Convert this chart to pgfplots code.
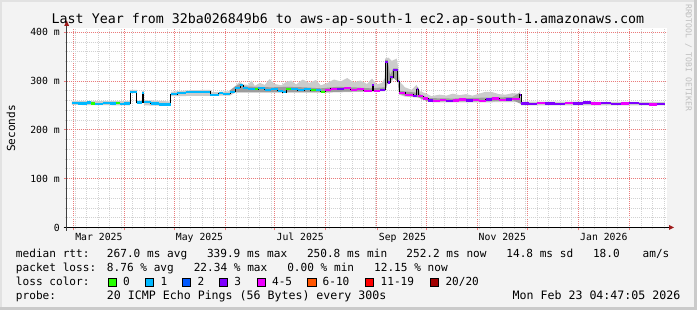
\documentclass[border=0pt]{standalone}
\usepackage{pgfplots}
\usepackage{pgfplotstable}
\pgfplotsset{compat=1.18}
\usepackage{fontspec}
\setmainfont{DejaVu Sans Mono}
\definecolor{bgc}{HTML}{F3F3F3}
\definecolor{shA}{HTML}{E2E2E2}
\definecolor{shB}{HTML}{CACACA}
\definecolor{mgrid}{HTML}{EA7C7C}
\definecolor{ngrid}{HTML}{D2D2D2}
\definecolor{arrc}{HTML}{9E1B1B}
\definecolor{c0}{HTML}{26FF00}
\definecolor{c1}{HTML}{00B8FF}
\definecolor{c2}{HTML}{0059FF}
\definecolor{c3}{HTML}{7E00FF}
\definecolor{c4}{HTML}{EE00FF}
\definecolor{c6}{HTML}{FF5500}
\definecolor{c11}{HTML}{FF0000}
\definecolor{c20}{HTML}{A10000}
\definecolor{smokeA}{HTML}{CCCCCC}
\definecolor{smokeB}{HTML}{9C9C9C}
\newcommand{\axf}{\fontsize{9.8bp}{11bp}\selectfont}
\newcommand{\lgf}{\fontsize{11.1bp}{13bp}\selectfont}
\newcommand{\prf}{\fontsize{11.6bp}{13bp}\selectfont}
\newcommand{\ttf}{\fontsize{13.3bp}{15bp}\selectfont}
\newcommand{\wmf}{\fontsize{8.1bp}{9bp}\selectfont}

% median rtt, in horizontal pieces (x = days since 1 Mar 2025, y = ms, c = loss colour)
\pgfplotstableread{
x y c
-0.8 255 1
3 255 1
nan nan -1
3 254 1
8 254 1
nan nan -1
8 256 1
11 256 1
nan nan -1
11 254 0
13 254 0
nan nan -1
13 253 1
18 253 1
nan nan -1
18 255 1
22 255 1
nan nan -1
22 254 1
26 254 1
nan nan -1
26 255 0
28 255 0
nan nan -1
28 253 1
31 253 1
nan nan -1
31 254 1
34.5 254 1
nan nan -1
34.5 278 1
38.5 278 1
nan nan -1
38.5 256 1
41.7 256 1
nan nan -1
41.7 276 1
42.7 276 1
nan nan -1
42.7 257 1
47 257 1
nan nan -1
47 254 1
52 254 1
nan nan -1
52 252 1
59 252 1
nan nan -1
59 273 1
63 273 1
nan nan -1
63 275 1
68 275 1
nan nan -1
68 277 1
72 277 1
nan nan -1
72 278 1
83 278 1
nan nan -1
83 272 1
88 272 1
nan nan -1
88 275 1
91 275 1
nan nan -1
91 274 1
95 274 1
nan nan -1
95 278 1
98 278 1
nan nan -1
98 286 1
101 286 1
nan nan -1
101 291 1
103 291 1
nan nan -1
103 285 1
106 285 1
nan nan -1
106 284 1
110 284 1
nan nan -1
110 283 0
112 283 0
nan nan -1
112 285 1
116 285 1
nan nan -1
116 282 1
120 282 1
nan nan -1
120 283 1
124 283 1
nan nan -1
124 280 1
127 280 1
nan nan -1
127 277 1
129 277 1
nan nan -1
129 283 0
132 283 0
nan nan -1
132 284 1
136 284 1
nan nan -1
136 281 1
140 281 1
nan nan -1
140 283 1
144 283 1
nan nan -1
144 281 0
147 281 0
nan nan -1
147 282 1
150 282 1
nan nan -1
150 278 0
152.5 278 0
nan nan -1
152.5 281 4
156 281 4
nan nan -1
156 284 4
160 284 4
nan nan -1
160 283 3
164 283 3
nan nan -1
164 285 4
168 285 4
nan nan -1
168 282 4
172 282 4
nan nan -1
172 283 4
176 283 4
nan nan -1
176 280 4
181 280 4
nan nan -1
181 291 3
182 291 3
nan nan -1
182 280 4
186 280 4
nan nan -1
186 282 3
189 282 3
nan nan -1
189 339 3
190.5 339 3
nan nan -1
190.5 297 3
192 297 3
nan nan -1
192 308 3
194 308 3
nan nan -1
194 322 3
196.5 322 3
nan nan -1
196.5 300 3
197.5 300 3
nan nan -1
197.5 276 4
201 276 4
nan nan -1
201 272 4
206 272 4
nan nan -1
206 270 3
208 270 3
nan nan -1
208 283 3
209 283 3
nan nan -1
209 269 4
212 269 4
nan nan -1
212 264 4
215 264 4
nan nan -1
215 260 3
218 260 3
nan nan -1
218 259 4
222 259 4
nan nan -1
222 261 4
226 261 4
nan nan -1
226 259 3
230 259 3
nan nan -1
230 260 4
234 260 4
nan nan -1
234 262 4
238 262 4
nan nan -1
238 260 3
242 260 3
nan nan -1
242 261 4
246 261 4
nan nan -1
246 259 4
250 259 4
nan nan -1
250 262 3
254 262 3
nan nan -1
254 264 4
258 264 4
nan nan -1
258 261 4
262 261 4
nan nan -1
262 262 3
266 262 3
nan nan -1
266 263 4
270.5 263 4
nan nan -1
270.5 272 3
271.3 272 3
nan nan -1
271.3 254 3
276 254 3
nan nan -1
276 253 3
281 253 3
nan nan -1
281 255 4
286 255 4
nan nan -1
286 254 3
292 254 3
nan nan -1
292 253 3
298 253 3
nan nan -1
298 255 4
303 255 4
nan nan -1
303 254 3
309 254 3
nan nan -1
309 256 3
314 256 3
nan nan -1
314 254 4
320 254 4
nan nan -1
320 255 3
326 255 3
nan nan -1
326 253 3
332 253 3
nan nan -1
332 254 4
337 254 4
nan nan -1
337 255 3
343 255 3
nan nan -1
343 253 3
349 253 3
nan nan -1
349 252 4
354 252 4
nan nan -1
354 253 3
358.5 253 3
}\med

\begin{document}
\begin{tikzpicture}
\fill[bgc] (0,0) rectangle (697bp,310bp);
\fill[shA] (0,0) rectangle (2bp,310bp);
\fill[shA] (0,308bp) rectangle (697bp,310bp);
\fill[shB] (694bp,0) rectangle (697bp,310bp);
\fill[shB] (0,0) rectangle (697bp,3bp);
\begin{axis}[
  at={(66.7bp,82.5bp)}, anchor=south west,
  scale only axis, width=600bp, height=199.5bp,
  xmin=-4, xmax=359.6, ymin=0, ymax=408.5,
  axis background/.style={fill=white},
  axis line style={draw=none},
  xtick pos=bottom, ytick pos=left,
  tick align=outside,
  major tick length=3bp, minor tick length=2bp,
  major tick style={draw=mgrid, line width=0.8bp},
  minor tick style={draw=ngrid, line width=0.8bp},
  xtick={0,31,61,92,122,153,184,214,245,275,306,337},
  xticklabels={},
  minor xtick={-6,1,8,15,22,29,36,43,50,57,64,71,78,85,92,99,106,113,120,127,134,141,148,155,162,169,176,183,190,197,204,211,218,225,232,239,246,253,260,267,274,281,288,295,302,309,316,323,330,337,344,351,358},
  ytick={0,100,200,300,400},
  yticklabels={0,100 m,200 m,300 m,400 m},
  minor ytick={20,40,60,80,120,140,160,180,220,240,260,280,320,340,360,380},
  yticklabel style={font=\axf, inner sep=0pt, anchor=east, xshift=-3.7bp},
  grid=both,
  grid style={},
  major grid style={draw=mgrid, line width=0.9bp, dash pattern=on 1bp off 1bp},
  minor grid style={draw=ngrid, line width=0.8bp, dash pattern=on 1bp off 1bp},
  extra x ticks={15.5,76.5,137.5,199.5,260,321.5},
  extra x tick labels={Mar 2025,May 2025,Jul 2025,Sep 2025,Nov 2025,Jan 2026},
  extra x tick style={grid=none, major tick length=0pt,
     xticklabel style={font=\axf, anchor=base, inner sep=0pt, yshift=-13.2bp}},
]
% smoke (outer)
\addplot[fill=smokeA, draw=none] coordinates {
(-0.8,259)(34.4,259)(34.5,282)(38.5,282)(38.6,260)(41.6,260)(41.7,280)(42.7,280)(42.8,261)(59,258)(59.1,278)(70,281)(83,282)(84,277)(94,279)(97,284)(99,293)(101,298)(103,293)(106,292)(108,301)(110,290)(113,296)(116,292)(119,304)(122,294)(126,291)(129,298)(132,301)(135,293)(139,303)(143,296)(147,302)(150,291)(154,296)(158,303)(162,299)(166,306)(170,297)(174,301)(178,294)(181,305)(184,293)(187,296)(188.8,306)(189,346)(191,348)(193,341)(196,346)(197,326)(198,298)(201,287)(205,282)(208,292)(210,279)(214,274)(217,269)(222,272)(226,270)(230,274)(234,271)(238,273)(242,270)(246,274)(250,278)(254,277)(258,273)(262,272)(266,275)(270,274)(270.8,282)(271.3,258)(358.5,257)
(358.5,250)(271.3,250)(271,257)(240,256)(218,256)(215,260)(212,262)(209,266)(201,268)(197.5,272)(197,296)(196.5,318)(192,294)(190.5,294)(190,335)(189,335)(188.8,279)(152,276)(98,276)(95,270)(59.1,269)(59,249)(43,250)(42.7,273)(41.7,273)(41.6,253)(38.6,253)(38.5,275)(34.5,275)(34.4,250)(-0.8,251)
} --cycle;
% smoke (inner)
\addplot[fill=smokeB, draw=none] coordinates {
(95,281)(98,289)(101,294)(103,289)(110,288)(120,287)(130,288)(140,287)(150,285)(160,288)(170,287)(180,285)(188.8,287)(189,343)(190.5,343)(192,312)(194,326)(196.5,326)(197.5,280)(208,276)(208.1,287)(209,287)(210,273)(215,265)(230,264)(250,266)(266,267)(270.5,276)(271.3,257)
(271.3,253)(266,261)(250,258)(230,258)(215,258)(212,262)(209,267)(201,270)(197.5,274)(196.5,299)(194,306)(190.5,295)(189,280)(150,277)(100,277)(95,277)
} --cycle;
% median
\addplot[black, line width=0.9bp] table[x=x, y=y] {\med};
\addplot[c0, line width=2.2bp, unbounded coords=jump, restrict expr to domain={\thisrow{c}}{0:0}] table[x=x, y=y] {\med};
\addplot[c1, line width=2.2bp, unbounded coords=jump, restrict expr to domain={\thisrow{c}}{1:1}] table[x=x, y=y] {\med};
\addplot[c3, line width=2.2bp, unbounded coords=jump, restrict expr to domain={\thisrow{c}}{3:3}] table[x=x, y=y] {\med};
\addplot[c4, line width=2.2bp, unbounded coords=jump, restrict expr to domain={\thisrow{c}}{4:4}] table[x=x, y=y] {\med};
\end{axis}
\begin{scope}[shift={(0,310bp)}, x=1bp, y=-1bp]
% axes
\draw[black, line width=1bp] (63.5,227.5) -- (669,227.5);
\fill[arrc] (669,225) -- (674,227.5) -- (669,230) -- cycle;
\draw[black!75, line width=1bp] (66.7,231) -- (66.7,26);
\fill[arrc] (64.2,26) -- (66.7,20.5) -- (69.2,26) -- cycle;
% title
\node[anchor=base, inner sep=0pt, font=\ttf] at (348,23.7) {Last Year from 32ba026849b6 to aws-ap-south-1 ec2.ap-south-1.amazonaws.com};
% watermark
\node[rotate=-90, anchor=west, inner sep=0pt, font=\wmf, text=black!25] at (688.5,4) {RRDTOOL / TOBI OETIKER};
% y label
\node[rotate=90, anchor=center, inner sep=0pt, font=\lgf] at (11,128.5) {Seconds};
% legend
\begin{scope}[every node/.style={anchor=base west, inner sep=0pt, font=\lgf}]
\node at (15.8,257.5) {median rtt:};
\node at (106.8,257.5) {267.0 ms avg};
\node at (206.8,257.5) {339.9 ms max};
\node at (306.8,257.5) {250.8 ms min};
\node at (406.2,257.5) {252.2 ms now};
\node at (506.2,257.5) {14.8 ms sd};
\node at (592.8,257.5) {18.0};
\node at (642.5,257.5) {am/s};
\node at (15.8,271.7) {packet loss:};
\node at (106.8,271.7) {8.76 \% avg};
\node at (193.6,271.7) {22.34 \% max};
\node at (287.1,271.7) {0.00 \% min};
\node at (374,271.7) {12.15 \% now};
\node at (15.8,285.3) {loss color:};
\node at (123,285.3) {0};
\node at (160.5,285.3) {1};
\node at (197.5,285.3) {2};
\node at (234.2,285.3) {3};
\node at (271.9,285.3) {4-5};
\node at (322.5,285.3) {6-10};
\node at (380.5,285.3) {11-19};
\node at (445.3,285.3) {20/20};
\node at (15.8,299.3) {probe:};
\node[font=\prf] at (106.8,299.3) {20 ICMP Echo Pings (56 Bytes) every 300s};
\node[anchor=base east, font=\prf] at (680.5,299.3) {Mon Feb 23 04:47:05 2026};
\end{scope}
\foreach \bx/\bc in {108/c0,145/c1,182/c2,219/c3,257/c4,307.6/c6,365/c11,430/c20}{
  \filldraw[fill=\bc, draw=black, line width=0.8bp] (\bx,278.3) rectangle (\bx+8.6,286.6);
}
\end{scope}
\pgfresetboundingbox
\useasboundingbox (0,0) rectangle (697bp,310bp);
\end{tikzpicture}
\end{document}
